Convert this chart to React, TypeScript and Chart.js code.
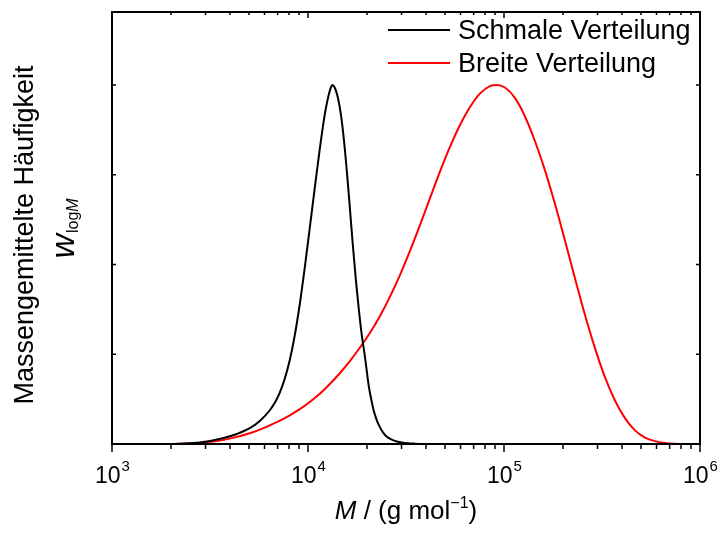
import React, { useEffect, useRef } from "react";
import { Chart, registerables } from "chart.js";

Chart.register(...registerables);

// Narrow distribution (Schmale Verteilung): molar mass M and w_logM
const narrowM = [1752, 2216, 2804, 3674, 4330, 5046, 5675, 6383, 6849, 7179, 7612, 8074, 8563, 9081, 9631, 10210, 10830, 11490, 12180, 12620, 13080, 13310, 13700, 14200, 14710, 15230, 15780, 16350, 16930, 17540, 18170, 18820, 19500, 19960, 20440, 21050, 21670, 22450, 23260, 24240, 25250, 26160, 27100, 28400, 30120, 32320, 35100, 39480, 47080];
const narrowW = [0, 0.001, 0.004, 0.016, 0.028, 0.044, 0.064, 0.094, 0.12, 0.143, 0.182, 0.234, 0.303, 0.39, 0.492, 0.602, 0.714, 0.823, 0.918, 0.962, 0.993, 1.0, 0.9925, 0.9655, 0.919, 0.85, 0.76, 0.658, 0.5545, 0.4585, 0.3745, 0.3025, 0.245, 0.202, 0.16, 0.123, 0.092, 0.066, 0.047, 0.031, 0.02, 0.015, 0.011, 0.007, 0.004, 0.002, 0.001, 0.0003, 0];

// Broad distribution (Breite Verteilung)
const broadM = [1752, 2216, 2804, 3423, 4131, 5046, 5675, 6383, 7179, 8074, 9081, 10210, 11490, 12920, 14530, 16350, 18380, 20680, 23260, 26160, 29420, 33090, 37210, 41850, 47070, 52940, 59550, 66970, 75330, 84720, 91990, 101100, 113700, 127800, 143800, 161700, 181900, 204600, 230100, 258800, 291100, 327400, 368200, 414100, 465700, 523800, 589100, 662600, 745200, 889100, 1000000];
const broadW = [0, 0.0006, 0.003, 0.008, 0.017, 0.03, 0.04, 0.052, 0.065, 0.08, 0.097, 0.117, 0.14, 0.167, 0.197, 0.231, 0.268, 0.309, 0.356, 0.41, 0.47, 0.537, 0.609, 0.684, 0.758, 0.827, 0.888, 0.938, 0.976, 0.997, 1.0, 0.993, 0.964, 0.913, 0.844, 0.763, 0.669, 0.567, 0.462, 0.36, 0.267, 0.186, 0.121, 0.072, 0.038, 0.018, 0.008, 0.003, 0.001, 0.0002, 0];

const seriesLabels = ["Schmale Verteilung", "Breite Verteilung"];
const seriesColors = ["#000000", "#ff0000"];

const xMajorTicks = [1e3, 1e4, 1e5, 1e6];
const xTickExponents = ["3", "4", "5", "6"];
const xMinorFactors = [2, 3, 4, 5, 6, 7, 8, 9];
const yTicks = [0, 0.25, 0.5, 0.75, 1.0];

const FONT = '"Liberation Sans", Arial, sans-serif';

const decorPlugin = {
  id: "decor",
  afterDraw(chart: any) {
    const ctx: CanvasRenderingContext2D = chart.ctx;
    const area = chart.chartArea;
    const xs = chart.scales.x;
    const ys = chart.scales.y;
    ctx.save();
    ctx.strokeStyle = "#000";
    ctx.fillStyle = "#000";

    // ticks
    ctx.lineWidth = 1.5;
    ctx.beginPath();
    xMajorTicks.forEach((m, i) => {
      const px = xs.getPixelForValue(m);
      ctx.moveTo(px, area.bottom);
      ctx.lineTo(px, area.bottom + 8);
      ctx.moveTo(px, area.top);
      ctx.lineTo(px, area.top + 6);
      if (i < xMajorTicks.length - 1) {
        xMinorFactors.forEach((f) => {
          const mp = xs.getPixelForValue(m * f);
          ctx.moveTo(mp, area.bottom);
          ctx.lineTo(mp, area.bottom + 5);
          ctx.moveTo(mp, area.top);
          ctx.lineTo(mp, area.top + 3);
        });
      }
    });
    yTicks.forEach((v) => {
      const py = ys.getPixelForValue(v);
      ctx.moveTo(area.left, py);
      ctx.lineTo(area.left + 4, py);
      ctx.moveTo(area.right, py);
      ctx.lineTo(area.right - 4, py);
    });
    ctx.stroke();

    // frame
    ctx.lineWidth = 2;
    ctx.strokeRect(area.left, area.top, area.right - area.left, area.bottom - area.top);

    // x tick labels
    xMajorTicks.forEach((m, i) => {
      const px = xs.getPixelForValue(m);
      ctx.font = `23px ${FONT}`;
      const w1 = ctx.measureText("10").width;
      ctx.font = `15px ${FONT}`;
      const w2 = ctx.measureText(xTickExponents[i]).width;
      const start = px - (w1 + w2) / 2;
      ctx.textAlign = "left";
      ctx.textBaseline = "alphabetic";
      ctx.font = `23px ${FONT}`;
      ctx.fillText("10", start, 483);
      ctx.font = `15px ${FONT}`;
      ctx.fillText(xTickExponents[i], start + w1 + 1, 471);
    });

    // x title
    {
      const parts: [string, string, number][] = [
        ["M", `italic 26px ${FONT}`, 0],
        [" / (g mol", `26px ${FONT}`, 0],
        ["\u22121", `16px ${FONT}`, -11],
        [")", `26px ${FONT}`, 0],
      ];
      let total = 0;
      const widths = parts.map(([t, f]) => {
        ctx.font = f;
        const w = ctx.measureText(t).width;
        total += w;
        return w;
      });
      let x = (area.left + area.right) / 2 - total / 2;
      ctx.textAlign = "left";
      parts.forEach(([t, f, dy], i) => {
        ctx.font = f;
        ctx.fillText(t, x, 519 + dy);
        x += widths[i];
      });
    }

    // y title
    ctx.save();
    ctx.translate(33, 235);
    ctx.rotate(-Math.PI / 2);
    ctx.font = `27px ${FONT}`;
    ctx.textAlign = "center";
    ctx.fillText("Massengemittelte H\u00e4ufigkeit", 0, 0);
    ctx.restore();

    // w_logM
    ctx.save();
    ctx.translate(74, 229);
    ctx.rotate(-Math.PI / 2);
    ctx.textAlign = "left";
    ctx.font = `italic 34px ${FONT}`;
    const ww = ctx.measureText("w").width;
    ctx.font = `16px ${FONT}`;
    const wl = ctx.measureText("log").width;
    ctx.font = `italic 16px ${FONT}`;
    const wm = ctx.measureText("M").width;
    let sx = -(ww + wl + wm) / 2;
    ctx.font = `italic 34px ${FONT}`;
    ctx.fillText("w", sx, 0);
    sx += ww + 1;
    ctx.font = `16px ${FONT}`;
    ctx.fillText("log", sx, 4);
    sx += wl;
    ctx.font = `italic 16px ${FONT}`;
    ctx.fillText("M", sx, 4);
    ctx.restore();

    // legend
    ctx.font = `27px ${FONT}`;
    ctx.textAlign = "left";
    seriesLabels.forEach((lab, i) => {
      const y = 30 + i * 33;
      ctx.strokeStyle = seriesColors[i];
      ctx.lineWidth = 2;
      ctx.beginPath();
      ctx.moveTo(388, y);
      ctx.lineTo(450, y);
      ctx.stroke();
      ctx.fillStyle = "#000";
      ctx.fillText(lab, 458, y + 9);
    });

    ctx.restore();
  },
};

export default function App() {
  const ref = useRef<HTMLCanvasElement | null>(null);
  useEffect(() => {
    document.body.style.margin = "0";
    if (!ref.current) return;
    const chart = new Chart(ref.current, {
      type: "line",
      data: {
        datasets: [
          {
            label: seriesLabels[0],
            data: narrowM.map((m, i) => ({ x: m, y: narrowW[i] })),
            borderColor: seriesColors[0],
            borderWidth: 2,
            pointRadius: 0,
            cubicInterpolationMode: "monotone",
            fill: false,
          },
          {
            label: seriesLabels[1],
            data: broadM.map((m, i) => ({ x: m, y: broadW[i] })),
            borderColor: seriesColors[1],
            borderWidth: 2,
            pointRadius: 0,
            cubicInterpolationMode: "monotone",
            fill: false,
          },
        ],
      },
      options: {
        animation: false,
        responsive: false,
        devicePixelRatio: 1,
        layout: { padding: { left: 112, right: 17, top: 12, bottom: 94 } },
        plugins: { legend: { display: false }, tooltip: { enabled: false } },
        scales: {
          x: { type: "logarithmic", min: 1000, max: 1000000, display: false },
          y: { type: "linear", min: 0, max: 1.2034, display: false },
        },
      },
      plugins: [decorPlugin],
    });
    return () => chart.destroy();
  }, []);
  return (
    <div style={{ width: 717, height: 538, background: "#fff" }}>
      <canvas ref={ref} width={717} height={538} />
    </div>
  );
}
